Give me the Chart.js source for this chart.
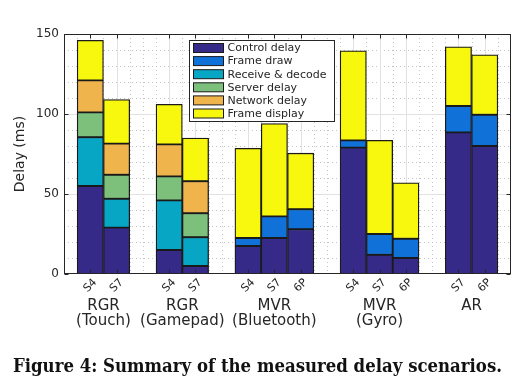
<!DOCTYPE html>
<html><head><meta charset="utf-8">
<script src="https://cdn.jsdelivr.net/npm/chart.js@4"></script>
<style>
html,body{margin:0;padding:0;background:#fff;}
#wrap{position:relative;width:531px;height:382px;overflow:hidden;}
canvas{position:absolute;left:0;top:0;}
#cap{position:absolute;left:13px;top:356px;font:bold 18px "DejaVu Serif",serif;color:#111;white-space:nowrap;transform-origin:0 0;line-height:20px;}
</style></head><body>
<div id="wrap"><canvas id="c" width="531" height="382"></canvas>
<div id="cap">Figure 4: Summary of the measured delay scenarios.</div></div>
<script>
// ---- data ----
const positions = [1, 2, 4, 5, 7, 8, 9, 11, 12, 13, 15, 16];
const deviceLabels = ['S4', 'S7', 'S4', 'S7', 'S4', 'S7', '6P', 'S4', 'S7', '6P', 'S7', '6P'];
const groupCenters = [1.5, 4.5, 8, 12, 15.5];
const groupLabels = [['RGR', '(Touch)'], ['RGR', '(Gamepad)'], ['MVR', '(Bluetooth)'], ['MVR', '(Gyro)'], ['AR']];
const seriesNames = ['Control delay', 'Frame draw', 'Receive & decode', 'Server delay', 'Network delay', 'Frame display'];
const controlDelay  = [55,   29,   15,   5,    17.5, 22.5, 28,   79,   12,   10,   88.5, 80];
const frameDraw     = [null, null, null, null, 5,    13.5, 12.5, 4.5,  13,   12,   16.5, 19.5];
const receiveDecode = [30.5, 18,   31,   18,   null, null, null, null, null, null, null, null];
const serverDelay   = [15.5, 15,   15,   15,   null, null, null, null, null, null, null, null];
const networkDelay  = [20,   19.5, 20,   20,   null, null, null, null, null, null, null, null];
const frameDisplay  = [25,   27.5, 25,   27,   56,   58,   35,   56,   58.5, 35,   37,   37.5];
const yTicks = [0, 50, 100, 150];

const seriesValues = [controlDelay, frameDraw, receiveDecode, serverDelay, networkDelay, frameDisplay];
const seriesColors = ['#352a87', '#1072d9', '#07a6c4', '#7cc07b', '#f0b44d', '#f8f80f'];
const AXIS = '#262626';

const datasets = seriesNames.map((name, k) => ({
  label: name,
  data: positions.map((x, i) => ({x: x, y: seriesValues[k][i]})).filter(p => p.y !== null),
  backgroundColor: seriesColors[k],
  borderColor: '#1a1a1a',
  borderWidth: 1.3,
  borderSkipped: false,
  categoryPercentage: 1,
  barPercentage: 1
}));

const gridPlugin = {
  id: 'gridPlugin',
  beforeDatasetsDraw(chart) {
    const {ctx, chartArea: a, scales: {x, y}} = chart;
    ctx.save();
    ctx.lineWidth = 1;
    ctx.strokeStyle = '#c4c4c4';
    ctx.setLineDash([1, 3]);
    for (let v = 0.5; v < x.max; v += 0.5) {
      if (positions.includes(v)) continue;
      const px = Math.round(x.getPixelForValue(v)) + 0.5;
      ctx.beginPath(); ctx.moveTo(px, a.top); ctx.lineTo(px, a.bottom); ctx.stroke();
    }
    for (let v = 10; v < y.max; v += 10) {
      if (yTicks.includes(v)) continue;
      const py = Math.round(y.getPixelForValue(v)) + 0.5;
      ctx.beginPath(); ctx.moveTo(a.left, py); ctx.lineTo(a.right, py); ctx.stroke();
    }
    ctx.setLineDash([]);
    ctx.strokeStyle = '#e2e2e2';
    positions.forEach(v => {
      const px = Math.round(x.getPixelForValue(v)) + 0.5;
      ctx.beginPath(); ctx.moveTo(px, a.top); ctx.lineTo(px, a.bottom); ctx.stroke();
    });
    yTicks.forEach(v => {
      if (v === y.min || v === y.max) return;
      const py = Math.round(y.getPixelForValue(v)) + 0.5;
      ctx.beginPath(); ctx.moveTo(a.left, py); ctx.lineTo(a.right, py); ctx.stroke();
    });
    ctx.restore();
  },
  afterDatasetsDraw(chart) {
    const {ctx, chartArea: a, scales: {x, y}} = chart;
    ctx.save();
    ctx.strokeStyle = AXIS;
    ctx.lineWidth = 1;
    const L = Math.round(a.left) + 0.5, R = Math.round(a.right) - 0.5;
    const T = Math.round(a.top) + 0.5, B = Math.round(a.bottom) - 0.5;
    ctx.strokeRect(L, T, R - L, B - T);
    const tl = 4;
    positions.forEach(v => {
      const px = Math.round(x.getPixelForValue(v)) + 0.5;
      ctx.beginPath(); ctx.moveTo(px, T); ctx.lineTo(px, T + tl); ctx.stroke();
      ctx.beginPath(); ctx.moveTo(px, B); ctx.lineTo(px, B - tl); ctx.stroke();
    });
    yTicks.forEach(v => {
      const py = Math.round(y.getPixelForValue(v)) + 0.5;
      ctx.beginPath(); ctx.moveTo(L, py); ctx.lineTo(L + tl, py); ctx.stroke();
      ctx.beginPath(); ctx.moveTo(R, py); ctx.lineTo(R - tl, py); ctx.stroke();
    });
    ctx.restore();
  }
};

const legendPlugin = {
  id: 'legendPlugin',
  afterDraw(chart) {
    const {ctx, chartArea: a} = chart;
    const bx = Math.round(a.left + 125) + 0.5, by = Math.round(a.top + 6) + 0.5;
    const bw = 145, bh = 81;
    ctx.save();
    ctx.fillStyle = '#fff';
    ctx.fillRect(bx, by, bw, bh);
    ctx.strokeStyle = AXIS; ctx.lineWidth = 1;
    ctx.strokeRect(bx, by, bw, bh);
    ctx.font = '11px "DejaVu Sans", sans-serif';
    ctx.textBaseline = 'middle';
    chart.data.datasets.forEach((ds, i) => {
      const cy = by + 7.5 + i * 13.1;
      ctx.fillStyle = ds.backgroundColor;
      ctx.fillRect(bx + 4, cy - 4.5, 30, 9);
      ctx.strokeStyle = '#1a1a1a';
      ctx.strokeRect(bx + 4, cy - 4.5, 30, 9);
      ctx.fillStyle = AXIS;
      ctx.fillText(ds.label, bx + 38, cy + 0.5);
    });
    ctx.restore();
  }
};

new Chart(document.getElementById('c'), {
  type: 'bar',
  data: {datasets},
  options: {
    responsive: false,
    animation: false,
    layout: {padding: {left: 0, right: 20, top: 34, bottom: 46}},
    plugins: {legend: {display: false}, tooltip: {enabled: false}},
    scales: {
      x: {
        type: 'linear', min: 0, max: 17, offset: false, stacked: true, position: 'bottom',
        afterBuildTicks: s => { s.ticks = positions.map(v => ({value: v})); },
        afterFit: s => { s.height = 22; },
        ticks: {
          autoSkip: false, maxRotation: 45, minRotation: 45, padding: 2, labelOffset: 5,
          color: AXIS, font: {family: '"DejaVu Sans", sans-serif', size: 11},
          callback: (v, i) => deviceLabels[i]
        },
        grid: {display: false, drawTicks: false},
        border: {display: false}
      },
      x2: {
        type: 'linear', min: 0, max: 17, offset: false, position: 'bottom',
        afterBuildTicks: s => { s.ticks = groupCenters.map(v => ({value: v})); },
        afterFit: s => { s.height = 40; },
        ticks: {
          autoSkip: false, maxRotation: 0, minRotation: 0, padding: 2,
          color: AXIS, font: {family: '"DejaVu Sans", sans-serif', size: 15, lineHeight: 1.03},
          callback: (v, i) => groupLabels[i]
        },
        grid: {display: false, drawTicks: false},
        border: {display: false}
      },
      y: {
        min: 0, max: 150, stacked: true,
        afterBuildTicks: s => { s.ticks = yTicks.map(v => ({value: v})); },
        afterFit: s => { s.width = 64; },
        ticks: {color: AXIS, padding: 5, font: {family: '"DejaVu Sans", sans-serif', size: 12}},
        title: {display: true, text: 'Delay (ms)', color: AXIS, padding: {top: 12, bottom: 0},
                font: {family: '"DejaVu Sans", sans-serif', size: 14}},
        grid: {display: false, drawTicks: false},
        border: {display: false}
      }
    }
  },
  plugins: [gridPlugin, legendPlugin]
});

const cap = document.getElementById('cap');
const w = cap.getBoundingClientRect().width;
cap.style.transform = 'scaleX(' + (489 / w) + ')';
</script>
</body></html>
